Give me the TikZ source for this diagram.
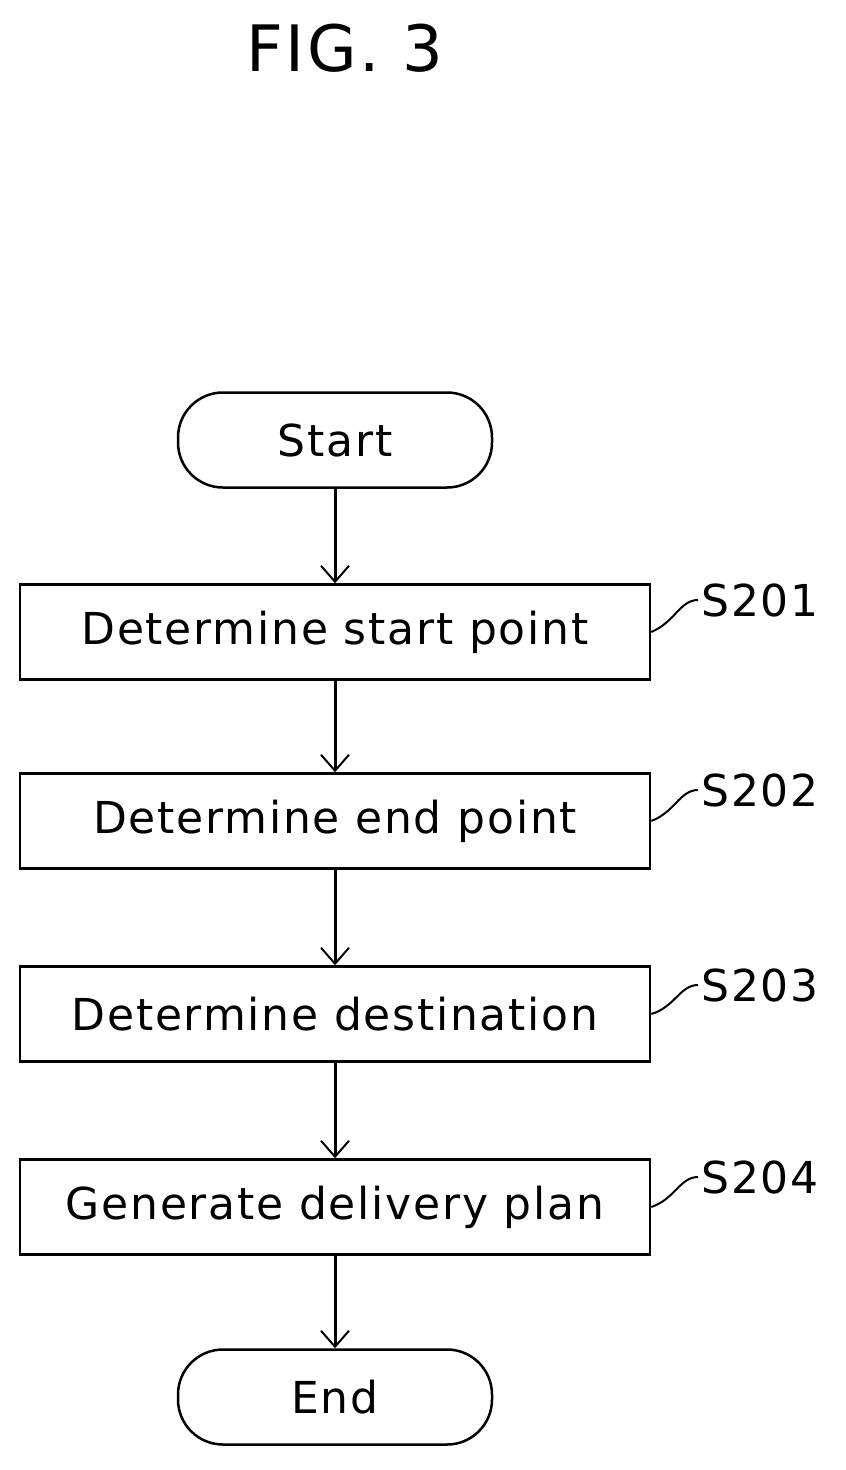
\documentclass[tikz,border=0pt]{standalone}
\usepackage{fontspec}
\setmainfont{DejaVu Sans}[LetterSpace=4]
\usetikzlibrary{arrows.meta}
\begin{document}
\begin{tikzpicture}[x=1pt,y=-1pt,
  box/.style={draw,line width=2.5pt,minimum width=630pt,minimum height=95pt,inner sep=0pt,font=\fontsize{44}{52}\selectfont},
  term/.style={box,rounded corners=45pt,minimum width=314pt},
  arr/.style={line width=3pt,-{Straight Barb[length=16pt,width=28pt,line width=2pt]}},
  lab/.style={font=\fontsize{44}{52}\selectfont,anchor=west},
  lead/.style={line width=2pt}]
\useasboundingbox (0,0) rectangle (846,1470);
\node[font=\fontsize{64}{72}\selectfont] (title) at (345,48) {FIG. 3};
\node[term] (start) at (335,440) {Start};
\node[box] (b1) at (335,632) {Determine start point};
\node[box] (b2) at (335,821) {Determine end point};
\node[box] (b3) at (335,1014) {Determine destination};
\node[box] (b4) at (335,1207) {Generate delivery plan};
\node[term] (end) at (335,1397) {End};
\draw[arr] (start.south) -- (b1.north);
\draw[arr] (b1.south) -- (b2.north);
\draw[arr] (b2.south) -- (b3.north);
\draw[arr] (b3.south) -- (b4.north);
\draw[arr] (b4.south) -- (end.north);
\foreach \i/\y in {1/600,2/790,3/985,4/1177}{
  \node[lab] (s\i) at (698,\y) {S20\i};
  \draw[lead] (b\i.east) .. controls (675,\y+22) and (680,\y) .. (s\i.west);
}
\end{tikzpicture}
\end{document}
